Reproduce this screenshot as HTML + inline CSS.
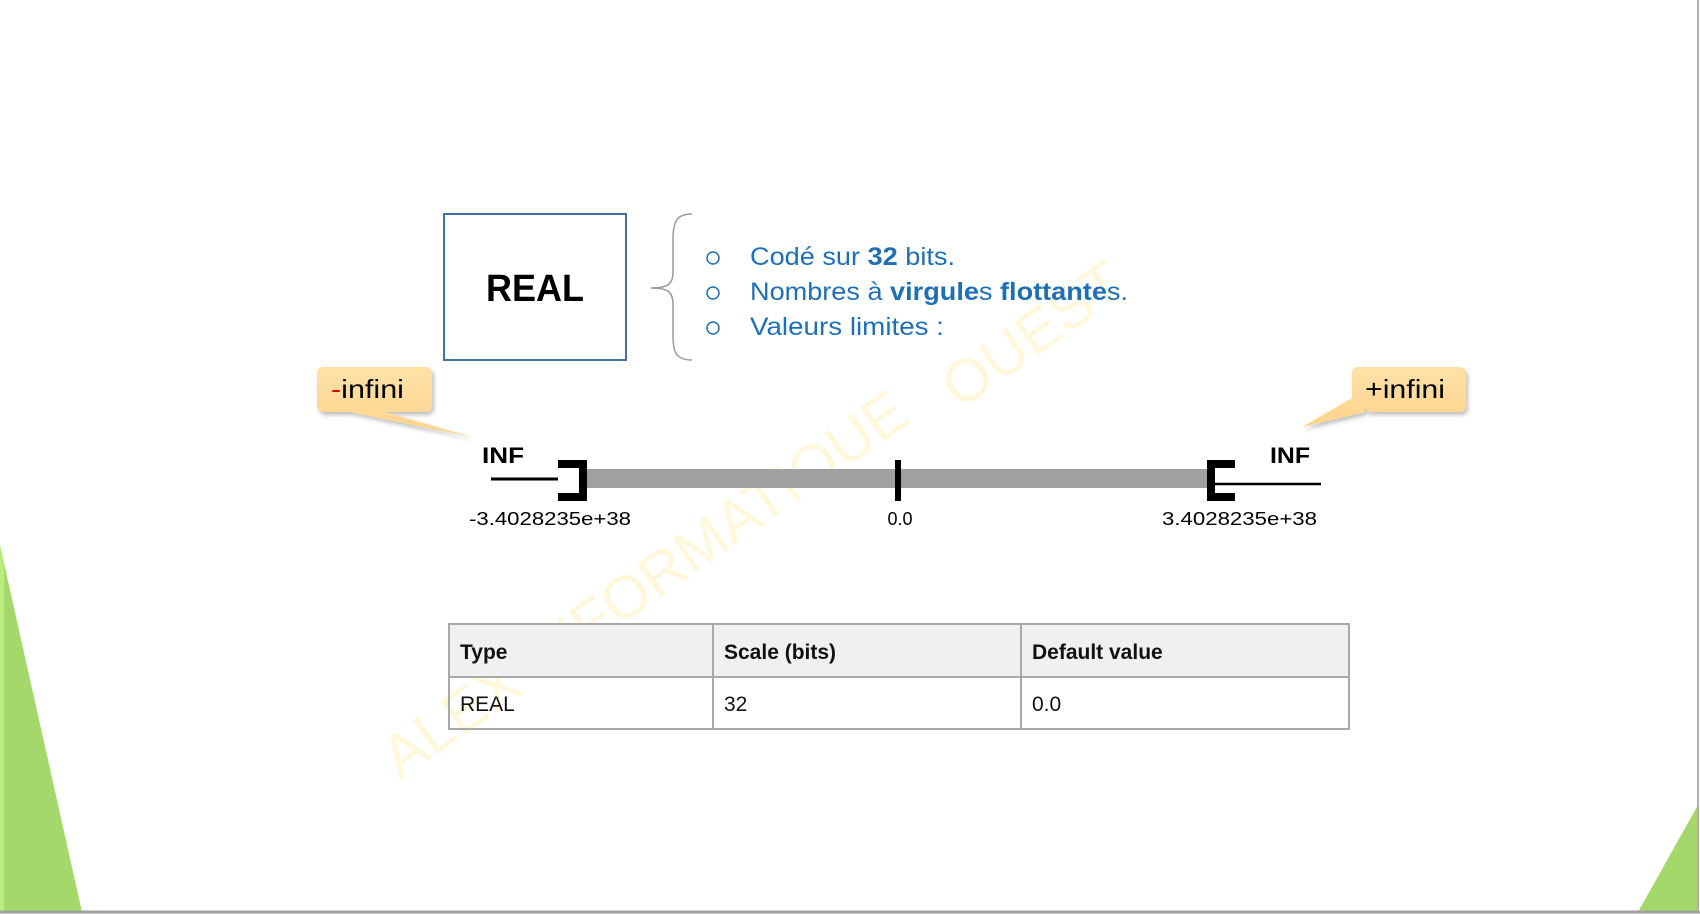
<!DOCTYPE html>
<html><head><meta charset="utf-8"><style>
html,body{margin:0;padding:0;background:#fff;}
svg{display:block;}
</style></head><body>
<svg width="1700" height="914" viewBox="0 0 1700 914" xmlns="http://www.w3.org/2000/svg">
<rect width="1700" height="914" fill="#fff"/>
<!-- watermark -->
<g fill="#fff8dc" font-family="Liberation Sans, sans-serif" font-size="60">
<text x="400" y="780" transform="rotate(-35 400 780)">ALEX INFORMATIQUE</text>
<text x="960" y="410" transform="rotate(-35 960 410)">OUEST</text>
</g>
<!-- green triangles -->
<polygon points="0,545 82,912 0,912" fill="#a5d86a"/>
<polygon points="0,545 4,562 4,912 0,912" fill="#b8ec7c"/>
<polygon points="1698,805 1698,912 1638,912" fill="#a5d86a"/>
<line x1="1698" y1="0" x2="1698" y2="912" stroke="#b0b0b0" stroke-width="2"/>
<line x1="0" y1="912" x2="1700" y2="912" stroke="#a0a0a0" stroke-width="3"/>
<!-- REAL box -->
<rect x="444" y="214" width="182" height="146" fill="#fff" stroke="#41719c" stroke-width="2"/>
<text x="535" y="301" text-anchor="middle" font-family="Liberation Sans, sans-serif" font-weight="bold" font-size="38" fill="#000" textLength="98" lengthAdjust="spacingAndGlyphs">REAL</text>
<!-- brace -->
<path d="M692,214 C676,214 673,222 673,240 L673,272 C673,284 668,288 651,288 C668,288 673,292 673,304 L673,336 C673,352 676,360 692,360" fill="none" stroke="#9a9a9a" stroke-width="1.5"/>
<!-- bullets -->
<g fill="none" stroke="#1f6fb5" stroke-width="1.5">
<circle cx="713" cy="258" r="6"/>
<circle cx="713" cy="293" r="6"/>
<circle cx="713" cy="328" r="6"/>
</g>
<g font-family="Liberation Sans, sans-serif" font-size="25" fill="#1f6fb5">
<text x="750" y="265" textLength="205" lengthAdjust="spacingAndGlyphs">Codé sur <tspan font-weight="bold">32</tspan> bits.</text>
<text x="750" y="300" textLength="378" lengthAdjust="spacingAndGlyphs">Nombres à <tspan font-weight="bold">virgule</tspan>s <tspan font-weight="bold">flottante</tspan>s.</text>
<text x="750" y="335" textLength="194" lengthAdjust="spacingAndGlyphs">Valeurs limites :</text>
</g>
<!-- callouts -->
<defs>
<linearGradient id="cg" x1="0" y1="0" x2="0" y2="1">
<stop offset="0" stop-color="#ffe2a8"/><stop offset="1" stop-color="#fdd38a"/>
</linearGradient>
<filter id="sh" x="-20%" y="-20%" width="140%" height="150%"><feDropShadow dx="2" dy="3" stdDeviation="2" flood-color="#000" flood-opacity="0.25"/></filter>
</defs>
<g filter="url(#sh)">
<path d="M324,367 H425 Q432,367 432,374 V405 Q432,412 425,412 H385 L472,437 L350,412 H324 Q317,412 317,405 V374 Q317,367 324,367 Z" fill="url(#cg)"/>
<path d="M1358,367 H1459 Q1466,367 1466,374 V405 Q1466,412 1459,412 H1372 Q1365,412 1365,405 V412 L1302,427 L1352,398 V374 Q1352,367 1358,367 Z" fill="url(#cg)"/>
</g>
<g font-family="Liberation Sans, sans-serif" font-size="26" fill="#000">
<text x="331" y="398" textLength="73" lengthAdjust="spacingAndGlyphs"><tspan fill="#e00000">-</tspan>infini</text>
<text x="1365" y="398" textLength="80" lengthAdjust="spacingAndGlyphs">+infini</text>
</g>
<!-- number line -->
<rect x="587" y="469" width="622" height="19" fill="#a0a0a0"/>
<line x1="491" y1="479" x2="558" y2="479" stroke="#000" stroke-width="3"/>
<path d="M558,464 H583 V497 H558" fill="none" stroke="#000" stroke-width="8"/>
<rect x="895" y="460" width="6" height="41" fill="#000"/>
<path d="M1235,464 H1211 V497 H1235" fill="none" stroke="#000" stroke-width="8"/>
<line x1="1215" y1="484" x2="1321" y2="484" stroke="#000" stroke-width="2.5"/>
<g font-family="Liberation Sans, sans-serif" font-weight="bold" font-size="22" fill="#000">
<text x="482" y="463" textLength="42" lengthAdjust="spacingAndGlyphs">INF</text>
<text x="1270" y="463" textLength="40" lengthAdjust="spacingAndGlyphs">INF</text>
</g>
<g font-family="Liberation Sans, sans-serif" font-size="18" fill="#000">
<text x="469" y="525" textLength="162" lengthAdjust="spacingAndGlyphs">-3.4028235e+38</text>
<text x="900" y="525" text-anchor="middle">0.0</text>
<text x="1162" y="525" textLength="155" lengthAdjust="spacingAndGlyphs">3.4028235e+38</text>
</g>
<!-- table -->
<rect x="449" y="624" width="900" height="53" fill="#f0f0f0"/>
<rect x="449" y="624" width="900" height="105" fill="none" stroke="#a8a8a8" stroke-width="2"/>
<line x1="449" y1="677" x2="1349" y2="677" stroke="#a8a8a8" stroke-width="2"/>
<line x1="713" y1="624" x2="713" y2="729" stroke="#a8a8a8" stroke-width="2"/>
<line x1="1021" y1="624" x2="1021" y2="729" stroke="#a8a8a8" stroke-width="2"/>
<g font-family="Liberation Sans, sans-serif" font-size="21" fill="#111">
<text x="460" y="659" font-weight="bold">Type</text>
<text x="724" y="659" font-weight="bold">Scale (bits)</text>
<text x="1032" y="659" font-weight="bold">Default value</text>
<text x="460" y="711">REAL</text>
<text x="724" y="711">32</text>
<text x="1032" y="711">0.0</text>
</g>
</svg>
</body></html>
